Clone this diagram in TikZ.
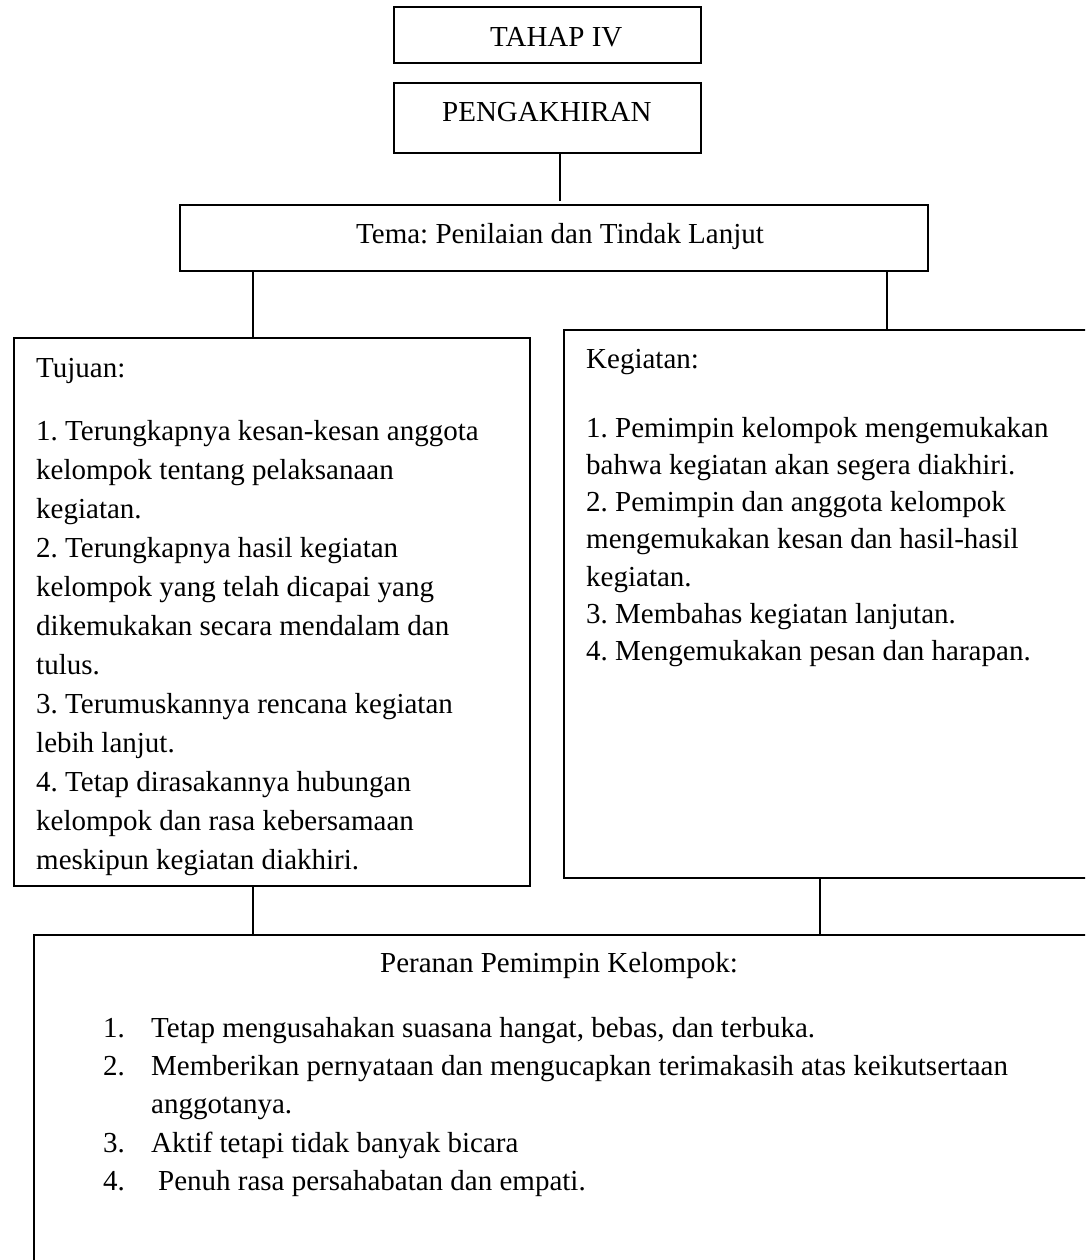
\documentclass[tikz,border=0pt]{standalone}
\usepackage{fontspec}
\setmainfont{Liberation Serif}
\frenchspacing
\begin{document}
\frenchspacing
\begin{tikzpicture}[x=1pt,y=-1pt,
  box/.style={draw, line width=1.4pt, rectangle, inner sep=0pt, outer sep=0pt},
  txt/.style={anchor=north west, inner sep=0pt, align=left},
  one/.style={anchor=base west, inner sep=0pt},
  conn/.style={line width=1.4pt}]
\useasboundingbox (0,0) rectangle (1085,1260);
\clip (0,0) rectangle (1085,1260);
\fill[white] (0,0) rectangle (1085,1260);
% boxes
\node[box, minimum width=307pt, minimum height=56pt] (tahap) at (547.5,35) {};
\node[box, minimum width=307pt, minimum height=70pt] (peng) at (547.5,118) {};
\node[box, minimum width=748pt, minimum height=66pt] (tema) at (554,238) {};
\node[box, minimum width=516pt, minimum height=548pt] (tujuan) at (272,612) {};
\node[box, minimum width=536pt, minimum height=548pt] (kegiatan) at (832,604) {};
\node[box, minimum width=1066pt, minimum height=345pt] (peranan) at (567,1107.5) {};
% texts
\begin{scope}[font=\fontsize{29}{39}\selectfont\frenchspacing]
\node[one] (t1) at (490,47) {TAHAP IV};
\node[one] (t2) at (442,122) {PENGAKHIRAN};
\node[one] (t3) at (356,243) {Tema: Penilaian dan Tindak Lanjut};
\node[txt] (t4) at (36,355) {\rule{0pt}{22pt}Tujuan:\\[24pt]
1. Terungkapnya kesan-kesan anggota\\
kelompok tentang pelaksanaan\\
kegiatan.\\
2. Terungkapnya hasil kegiatan\\
kelompok yang telah dicapai yang\\
dikemukakan secara mendalam dan\\
tulus.\\
3. Terumuskannya rencana kegiatan\\
lebih lanjut.\\
4. Tetap dirasakannya hubungan\\
kelompok dan rasa kebersamaan\\
meskipun kegiatan diakhiri.};
\node[one] (t8) at (380,972) {Peranan Pemimpin Kelompok:};
\end{scope}
\begin{scope}[font=\fontsize{29}{37.2}\selectfont\frenchspacing]
\node[txt] (t5) at (586,346) {\rule{0pt}{22pt}Kegiatan:\\[31.8pt]
1. Pemimpin kelompok mengemukakan\\
bahwa kegiatan akan segera diakhiri.\\
2. Pemimpin dan anggota kelompok\\
mengemukakan kesan dan hasil-hasil\\
kegiatan.\\
3. Membahas kegiatan lanjutan.\\
4. Mengemukakan pesan dan harapan.};
\end{scope}
\begin{scope}[font=\fontsize{29}{38.3}\selectfont\frenchspacing]
\node[txt] (t6) at (103,1015) {\rule{0pt}{22pt}1.\\2.\\\mbox{}\\3.\\4.};
\node[txt] (t7) at (151,1015) {\rule{0pt}{22pt}Tetap mengusahakan suasana hangat, bebas, dan terbuka.\\
Memberikan pernyataan dan mengucapkan terimakasih atas keikutsertaan\\
anggotanya.\\
Aktif tetapi tidak banyak bicara\\
\hspace{7pt}Penuh rasa persahabatan dan empati.};
\end{scope}
% connectors
\coordinate (c1) at (560,201);
\coordinate (cl) at (253,0);
\coordinate (cr) at (887,0);
\coordinate (cb) at (820,0);
\draw[conn] (peng.south -| c1) -- (c1);
\draw[conn] (tema.south -| cl) -- (tujuan.north -| cl);
\draw[conn] (tema.south -| cr) -- (kegiatan.north -| cr);
\draw[conn] (tujuan.south -| cl) -- (peranan.north -| cl);
\draw[conn] (kegiatan.south -| cb) -- (peranan.north -| cb);
\end{tikzpicture}
\end{document}
